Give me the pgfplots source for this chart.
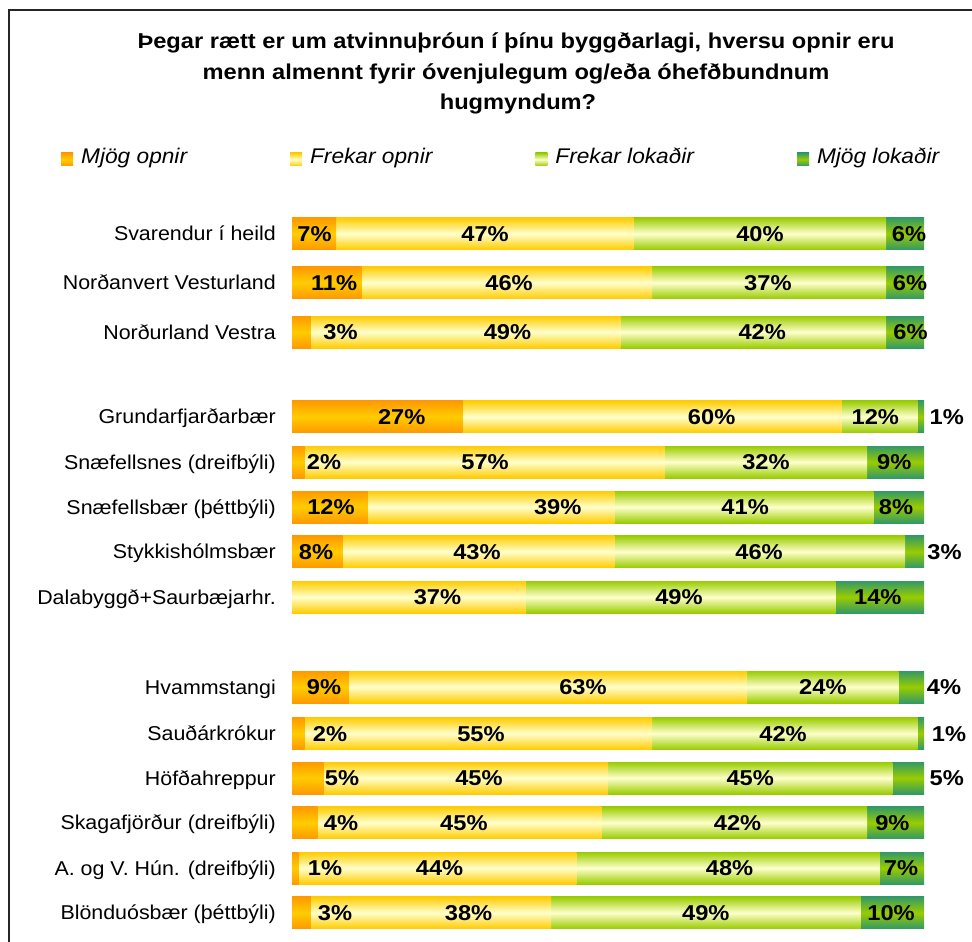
\documentclass[border=0pt]{standalone}
\usepackage{fontspec}
\setmainfont{Liberation Sans}
\newfontfamily\catfont{Liberation Sans}[FakeStretch=1.07]
\newfontfamily\valfont{Liberation Sans}[FakeStretch=1.1]
\usepackage{pgfplots}
\usepackage{pgfplotstable}
\pgfplotsset{compat=1.18}
\definecolor{orA}{HTML}{FF9900}
\definecolor{orB}{HTML}{FFCC00}
\definecolor{yeA}{HTML}{FFCC00}
\definecolor{yeB}{HTML}{FFFFCC}
\definecolor{lgA}{HTML}{99CC00}
\definecolor{lgB}{HTML}{FFFFCC}
\definecolor{dgA}{HTML}{339966}
\definecolor{dgB}{HTML}{99CC00}
\tikzset{
  sOr/.style={top color=orA, bottom color=orA, middle color=orB},
  sYe/.style={top color=yeA, bottom color=yeA, middle color=yeB},
  sLg/.style={top color=lgA, bottom color=lgA, middle color=lgB},
  sDg/.style={top color=dgA, bottom color=dgA, middle color=dgB},
}

% y = row position, a = Mjög opnir, b = Frekar opnir, c = Frekar lokaðir, d = Mjög lokaðir
\pgfplotstableread{
y a b c d
233.7 7 47 40 6
282.7 11 46 37 6
332 3 49 42 6
416.7 27 60 12 1
462 2 57 32 9
507 12 39 41 8
551.7 8 43 46 3
597 0 37 49 14
687 9 63 24 4
733.5 2 55 42 1
778 5 45 45 5
822.7 4 45 42 9
868 1 44 48 7
912.7 3 38 49 10
}\bardata

\pgfplotstableread{
x y v
3.56 233.7 7
30.54 233.7 47
74.05 233.7 40
97.63 233.7 6
6.65 282.7 11
34.34 282.7 46
75.3 282.7 37
97.78 282.7 6
7.67 332 3
34.1 332 49
74.4 332 42
97.86 332 6
17.36 416.7 27
66.4 416.7 60
92.3 416.7 12
103.6 416.7 1
5.06 462 2
30.54 462 57
75.0 462 32
95.3 462 9
6.17 507 12
42.04 507 39
71.7 507 41
95.57 507 8
3.8 551.7 8
29.27 551.7 43
73.9 551.7 46
103.24 551.7 3
23.02 597 37
61.23 597 49
92.69 597 14
5.06 687 9
46.04 687 63
84.0 687 24
103.16 687 4
6.01 733.5 2
29.9 733.5 55
77.7 733.5 42
103.96 733.5 1
7.91 778 5
29.59 778 45
72.5 778 45
103.59 778 5
7.75 822.7 4
27.2 822.7 45
70.5 822.7 42
95.0 822.7 9
5.22 868 1
23.35 868 44
69.24 868 48
96.36 868 7
6.8 912.7 3
27.94 912.7 38
65.47 912.7 49
94.78 912.7 10
}\labeldata

\begin{document}
\begin{tikzpicture}
\path[use as bounding box] (0pt,0pt) rectangle (972pt,-942pt);
\draw[line width=1.5pt, color=black!85] (9pt,-945pt) -- (9pt,-10pt) -- (975pt,-10pt);
\begin{scope}[every node/.style={font=\valfont\bfseries\fontsize{21.5}{30.5}\selectfont, anchor=base, inner sep=0pt}]
\node at (516pt,-48.5pt) {Þegar rætt er um atvinnuþróun í þínu byggðarlagi, hversu opnir eru};
\node at (516pt,-79pt) {menn almennt fyrir óvenjulegum og/eða óhefðbundnum};
\node at (518pt,-109pt) {hugmyndum?};
\end{scope}

\begin{axis}[
  at={(292pt,-200pt)}, anchor=north west,
  scale only axis, width=632pt, height=740pt,
  xmin=0, xmax=100, ymin=200, ymax=940, y dir=reverse,
  xbar, bar width=32pt, bar shift=0pt,
  axis line style={draw=none}, major tick length=0pt,
  xtick=\empty,
  ytick={233.7,282.7,332,416.7,462,507,551.7,597,687,733.5,778,822.7,868,912.7},
  yticklabels={Svarendur í heild,Norðanvert Vesturland,Norðurland Vestra,Grundarfjarðarbær,Snæfellsnes (dreifbýli),Snæfellsbær (þéttbýli),Stykkishólmsbær,Dalabyggð+Saurbæjarhr.,Hvammstangi,Sauðárkrókur,Höfðahreppur,Skagafjörður (dreifbýli),A. og V. Hún. (dreifbýli),Blönduósbær (þéttbýli)},
  yticklabel style={font=\catfont\fontsize{20}{24}\selectfont, inner sep=0pt, text height=14pt, text depth=0pt, xshift=-16pt, anchor=east},
  clip=false,
  legend columns=4,
  legend image code/.code={\path[#1,draw=none] (0pt,-9pt) rectangle (12pt,4pt);},
  legend style={at={(axis description cs:-0.3655,1.0568)}, anchor=west, draw=none, fill=none, inner sep=0pt,
    font=\catfont\itshape\fontsize{21.2}{24}\selectfont,
    nodes={inner sep=0pt, text height=14pt, text depth=0pt},
    /tikz/every odd column/.append style={column sep=8pt},
    /tikz/every even column/.append style={column sep=103pt}},
]
\addlegendimage{sOr}\addlegendentry{Mjög opnir}
\addlegendimage{sYe}\addlegendentry{Frekar opnir}
\addlegendimage{sLg}\addlegendentry{Frekar lokaðir}
\addlegendimage{sDg}\addlegendentry{Mjög lokaðir}
\pgfplotsinvokeforeach{0,...,13}{
  \addplot[forget plot, draw=none, sDg,
    x filter/.expression={\coordindex==#1 ? x : nan}]
    table[y=y, x expr=\thisrow{a}+\thisrow{b}+\thisrow{c}+\thisrow{d}]{\bardata};
  \addplot[forget plot, draw=none, sLg,
    x filter/.expression={\coordindex==#1 ? x : nan}]
    table[y=y, x expr=\thisrow{a}+\thisrow{b}+\thisrow{c}]{\bardata};
  \addplot[forget plot, draw=none, sYe,
    x filter/.expression={\coordindex==#1 ? x : nan}]
    table[y=y, x expr=\thisrow{a}+\thisrow{b}]{\bardata};
  \addplot[forget plot, draw=none, sOr,
    x filter/.expression={(\coordindex==#1 && x>0) ? x : nan}]
    table[y=y, x=a]{\bardata};
}
\end{axis}

\begin{axis}[
  at={(292pt,-200pt)}, anchor=north west,
  scale only axis, width=632pt, height=740pt,
  xmin=0, xmax=100, ymin=200, ymax=940, y dir=reverse,
  hide axis, clip=false]
\addplot[draw=none, mark=none, point meta=explicit symbolic,
  nodes near coords={\pgfplotspointmeta\%},
  every node near coord/.append style={anchor=center, inner sep=0pt, text height=15.4pt, text depth=0pt,
    font=\valfont\bfseries\fontsize{21.5}{24}\selectfont, text=black}]
  table[x=x,y=y,meta=v]{\labeldata};
\end{axis}
\end{tikzpicture}
\end{document}
